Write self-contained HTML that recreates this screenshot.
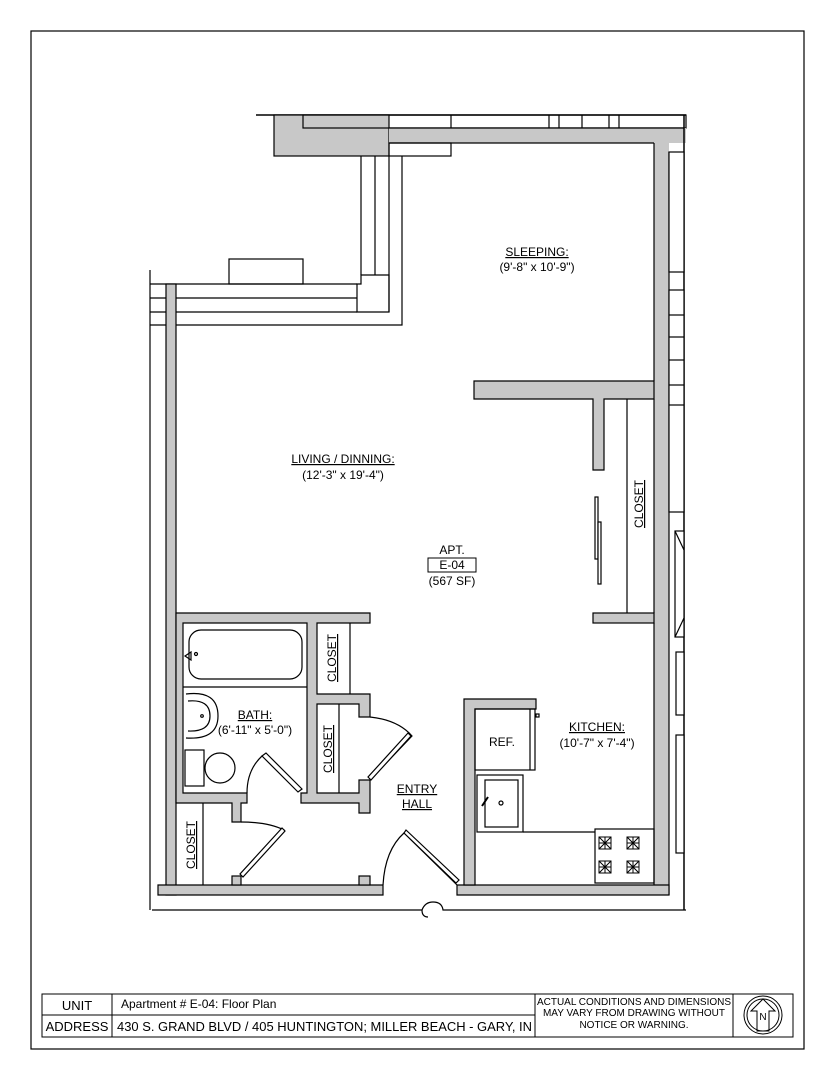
<!DOCTYPE html>
<html><head><meta charset="utf-8"><style>
html,body{margin:0;padding:0;background:#fff;}
svg{display:block;}
text{font-family:"Liberation Sans",Arial,sans-serif;fill:#000;}
</style></head><body>
<svg width="835" height="1080" viewBox="0 0 835 1080" xmlns="http://www.w3.org/2000/svg">
<rect x="31" y="31" width="773" height="1018" fill="none" stroke="#000" stroke-width="1.2"/>
<g stroke="#000" stroke-width="1.2" fill="none">
<!-- top -->
<line x1="256" y1="115" x2="686" y2="115" stroke-width="1.5"/>
<rect x="274" y="115" width="115" height="41" fill="#c8c8c8"/>
<rect x="303" y="115" width="383" height="13"/>
<line x1="451" y1="115" x2="451" y2="128"/><line x1="549" y1="115" x2="549" y2="128"/><line x1="559" y1="115" x2="559" y2="128"/><line x1="582" y1="115" x2="582" y2="128"/><line x1="609" y1="115" x2="609" y2="128"/><line x1="619" y1="115" x2="619" y2="128"/>
<rect x="389" y="128" width="297" height="15" fill="#c8c8c8" stroke="none"/>
<path d="M389 128 H684 M389 143 H654" />
<rect x="389" y="143" width="62" height="13"/>
<path d="M402 156 V325 H150"/>
<line x1="361" y1="156" x2="361" y2="275"/><line x1="375" y1="156" x2="375" y2="275"/><line x1="389" y1="156" x2="389" y2="312"/>
<path d="M361 275 H389 V312 H357 V284 H361 Z"/>
<line x1="150" y1="284" x2="357" y2="284"/><line x1="150" y1="298" x2="357" y2="298"/><line x1="150" y1="312" x2="357" y2="312"/>
<rect x="229" y="259" width="74" height="25"/>
<line x1="150" y1="270" x2="150" y2="910"/>
<!-- right wall -->
<rect x="654" y="143" width="15" height="752" fill="#c8c8c8" stroke="none"/>
<line x1="654" y1="143" x2="654" y2="381"/><line x1="654" y1="399" x2="654" y2="613"/><line x1="654" y1="623" x2="654" y2="885"/>
<line x1="669" y1="152" x2="669" y2="895"/>
<line x1="684" y1="115" x2="684" y2="910" stroke-width="1.5"/>
<rect x="669" y="152" width="15" height="120" fill="#fff"/>
<rect x="669" y="290" width="15" height="222" fill="#fff"/>
<line x1="669" y1="315" x2="684" y2="315"/><line x1="669" y1="337" x2="684" y2="337"/><line x1="669" y1="360" x2="684" y2="360"/><line x1="669" y1="385" x2="684" y2="385"/><line x1="669" y1="405" x2="684" y2="405"/>
<rect x="675" y="531" width="9" height="106" fill="#fff"/>
<line x1="675" y1="531" x2="684" y2="550"/><line x1="675" y1="637" x2="684" y2="618"/>
<rect x="676" y="652" width="8" height="63" fill="#fff"/>
<rect x="676" y="735" width="8" height="118" fill="#fff"/>
<!-- partition -->
<path d="M474 381 H654 V399 H604 V470 H593 V399 H474 Z" fill="#c8c8c8"/>
<rect x="593" y="613" width="61" height="10" fill="#c8c8c8"/>
<line x1="627" y1="399" x2="627" y2="613"/>
<rect x="595" y="497" width="3" height="62" fill="#fff"/>
<rect x="598" y="522" width="3" height="62" fill="#fff"/>
<!-- left wall -->
<rect x="166" y="284" width="10" height="611" fill="#c8c8c8"/>
<!-- bath area -->
<path d="M176 613 H370 V623 H317 V694 H370 V717 H359 V704 H317 V793 H359 V780 H370 V813 H359 V803 H301 V793 H307 V623 H183 V793 H247 V803 H241 V822 H232 V803 H176 Z" fill="#c8c8c8"/>
<line x1="350" y1="623" x2="350" y2="694"/>
<line x1="339" y1="704" x2="339" y2="793"/>
<line x1="203" y1="803" x2="203" y2="885"/>
<line x1="183" y1="687" x2="307" y2="687"/>
<rect x="189" y="630" width="113" height="49" rx="12"/>
<path d="M191 652 l-6 4 l6 4 Z"/><circle cx="196" cy="654" r="1.5"/>
<path d="M186 694 q32 -4 32 22 q0 24 -32 22" /><path d="M188 701 q22 -2 22 15 q0 16 -22 15"/><circle cx="202" cy="716" r="1.3"/>
<rect x="185" y="750" width="19" height="36"/><circle cx="220" cy="768" r="15"/>
<!-- doors -->
<path d="M262 756 L298 792 L302 789 L266 753 Z" fill="#fff"/>
<path d="M247 793 Q247 770 262 756"/>
<path d="M370 717 Q398 720 412 736 L370 780"/><path d="M408 733 L368 777 L371 780 L411 736 Z" fill="#fff"/>
<path d="M241 822 Q268 822 284 830 L241 876"/><path d="M282 828 L240 874 L243 877 L285 831 Z" fill="#fff"/>
<path d="M383 885 Q385 850 404 833 L457 885"/><path d="M404 833 L456 883 L459 880 L406 830 Z" fill="#fff"/>
<!-- bottom -->
<path d="M158 885 H383 V895 H158 Z M457 885 H669 V895 H457 Z" fill="#c8c8c8"/>
<rect x="232" y="876" width="9" height="9" fill="#c8c8c8"/>
<rect x="359" y="876" width="11" height="9" fill="#c8c8c8"/>
<path d="M152 910 H422 Q425 902 433 902 Q442 902 443 910 H686"/>
<path d="M422 910 q0 7 6 7"/>
<!-- kitchen -->
<path d="M464 699 H536 V709 H475 V885 H464 Z" fill="#c8c8c8"/>
<rect x="475" y="709" width="60" height="61"/><line x1="530" y1="709" x2="530" y2="770"/><rect x="536" y="714" width="3" height="3"/>
<rect x="477" y="775" width="46" height="57"/><rect x="485" y="780" width="33" height="47"/>
<line x1="482" y1="806" x2="488" y2="797" stroke-width="2"/><circle cx="501" cy="803" r="2"/>
<path d="M523 832 H595"/>
<rect x="595" y="829" width="59" height="54"/>
</g>
<g stroke="#000" stroke-width="1" fill="none">
<g transform="translate(605,843)"><rect x="-6" y="-6" width="12" height="12"/><path d="M-6 -6 L6 6 M6 -6 L-6 6 M0 -6 V6 M-6 0 H6"/></g>
<g transform="translate(633,843)"><rect x="-6" y="-6" width="12" height="12"/><path d="M-6 -6 L6 6 M6 -6 L-6 6 M0 -6 V6 M-6 0 H6"/></g>
<g transform="translate(605,867)"><rect x="-6" y="-6" width="12" height="12"/><path d="M-6 -6 L6 6 M6 -6 L-6 6 M0 -6 V6 M-6 0 H6"/></g>
<g transform="translate(633,867)"><rect x="-6" y="-6" width="12" height="12"/><path d="M-6 -6 L6 6 M6 -6 L-6 6 M0 -6 V6 M-6 0 H6"/></g>
</g>
<!-- labels -->
<g font-size="12" text-anchor="middle">
<text x="537" y="256" text-decoration="underline">SLEEPING:</text><text x="537" y="271">(9'-8" x 10'-9")</text>
<text x="343" y="463" text-decoration="underline">LIVING / DINNING:</text><text x="343" y="479">(12'-3" x 19'-4")</text>
<text x="452" y="554">APT.</text>
<rect x="428" y="558" width="48" height="14" fill="none" stroke="#000"/>
<text x="452" y="569">E-04</text><text x="452" y="585">(567 SF)</text>
<text x="255" y="719" text-decoration="underline">BATH:</text><text x="255" y="734">(6'-11" x 5'-0")</text>
<text x="417" y="793" text-decoration="underline">ENTRY</text><text x="417" y="808" text-decoration="underline">HALL</text>
<text x="502" y="746">REF.</text>
<text x="597" y="731" text-decoration="underline">KITCHEN:</text><text x="597" y="747">(10'-7" x 7'-4")</text>
<text transform="translate(336,658) rotate(-90)" text-decoration="underline">CLOSET</text>
<text transform="translate(332,749) rotate(-90)" text-decoration="underline">CLOSET</text>
<text transform="translate(195,845) rotate(-90)" text-decoration="underline">CLOSET</text>
<text transform="translate(643,504) rotate(-90)" text-decoration="underline">CLOSET</text>
</g>
<!-- title block -->
<g stroke="#000" stroke-width="1" fill="none">
<rect x="42" y="994" width="751" height="43"/>
<line x1="42" y1="1015" x2="535" y2="1015"/>
<line x1="112" y1="994" x2="112" y2="1037"/>
<line x1="535" y1="994" x2="535" y2="1037"/>
<line x1="733" y1="994" x2="733" y2="1037"/>
<circle cx="763" cy="1015" r="19"/><circle cx="763" cy="1015" r="16"/>
<path d="M763 999 L775 1011 H769 V1031 H757 V1011 H751 Z"/>
</g>
<g font-size="13">
<text x="77" y="1010" text-anchor="middle">UNIT</text>
<text x="121" y="1008" font-size="12">Apartment # E-04:  Floor Plan</text>
<text x="77" y="1031" text-anchor="middle">ADDRESS</text>
<text x="117" y="1031" textLength="415" lengthAdjust="spacingAndGlyphs">430 S. GRAND BLVD / 405 HUNTINGTON; MILLER BEACH - GARY, IN</text>
<g font-size="10" text-anchor="middle">
<text x="634" y="1005">ACTUAL  CONDITIONS AND DIMENSIONS</text>
<text x="634" y="1016">MAY VARY FROM DRAWING WITHOUT</text>
<text x="634" y="1028">NOTICE OR WARNING.</text>
</g>
<text x="763" y="1020" font-size="10" text-anchor="middle">N</text>
</g>
</svg>
</body></html>
